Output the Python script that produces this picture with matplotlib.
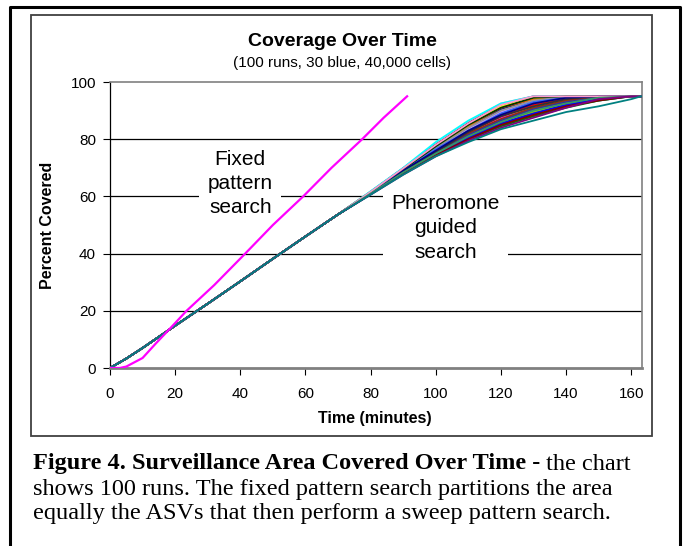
import matplotlib
matplotlib.use("Agg")
import matplotlib.pyplot as plt
from matplotlib.lines import Line2D
from matplotlib.patches import Rectangle

# pheromone runs: shared start (the bundle is tight up to ~70 min)
early_t = [0, 5, 10, 20, 30, 40, 50, 60, 70]
early_y = [0, 3.3, 7, 14.8, 22.5, 30.3, 38.2, 46, 53.7]

# each run from 80 min on (percent covered)
late_t = [80, 90, 100, 110, 120, 130, 140, 150, 160, 163]
runs = [
    [61.4, 69.2, 77, 84, 90.5, 94, 95, 95, 95, 95],
    [61, 68.4, 75, 81.5, 87, 90.5, 93.5, 95, 95, 95],
    [61.6, 69.8, 78.5, 86, 92.5, 95, 95, 95, 95, 95],
    [61.2, 69, 76, 83, 89, 92.5, 94.5, 95, 95, 95],
    [60.8, 68, 74.5, 80.5, 85.5, 89.5, 92, 94, 95, 95],
    [61.6, 69.8, 78, 85.5, 92, 95, 95, 95, 95, 95],
    [61, 68.7, 75.5, 82, 87.5, 91, 93.5, 95, 95, 95],
    [61.2, 69, 76.5, 83.5, 89.5, 93, 95, 95, 95, 95],
    [60.8, 68, 74.5, 80, 85, 88.5, 91.5, 93.5, 95, 95],
    [61.4, 69.5, 77.5, 85, 91.5, 94.5, 95, 95, 95, 95],
    [61, 68.4, 75, 81, 86, 90, 92.5, 94.5, 95, 95],
    [61.2, 68.7, 76, 82.5, 88.5, 92, 94.5, 95, 95, 95],
    [61.6, 69.8, 78, 85.5, 92, 94.5, 95, 95, 95, 95],
    [61, 68.7, 75.5, 82, 87.5, 91.5, 94, 95, 95, 95],
    [60.8, 68, 74.5, 80.5, 85, 88.5, 91.5, 94, 95, 95],
    [61.2, 69.2, 76.5, 83.5, 89.5, 93.5, 95, 95, 95, 95],
    [61, 68.4, 75, 81.5, 86.5, 90, 93, 94.5, 95, 95],
    [61.4, 69.5, 77, 84.5, 91, 94, 95, 95, 95, 95],
    [61.2, 68.7, 75.5, 82.5, 88, 91.5, 94, 95, 95, 95],
    [60.8, 68, 74.5, 80, 84.5, 88, 91, 93.5, 95, 95],
    [61.6, 69.5, 77.5, 85, 91.5, 94.5, 95, 95, 95, 95],
    [61.2, 69, 76, 83, 88.5, 92.5, 94.5, 95, 95, 95],
    [61, 68, 75, 81, 86, 89.5, 92.5, 94.5, 95, 95],
    [61.4, 69.2, 77, 84, 90, 93.5, 95, 95, 95, 95],
    [61, 68.4, 75.5, 82, 87, 91, 93.5, 95, 95, 95],
    [61.2, 68.7, 76, 82.5, 88, 92, 94, 95, 95, 95],
    [61.8, 70, 79, 86.5, 92.5, 95, 95, 95, 95, 95],
    [60.8, 68, 74.5, 80.5, 85.5, 89, 92, 94, 95, 95],
    [61.2, 69, 76.5, 83, 89, 93, 94.5, 95, 95, 95],
    [61, 68.4, 75, 81.5, 86.5, 90.5, 93, 94.5, 95, 95],
    [61.4, 69.5, 77.5, 85, 91, 94.5, 95, 95, 95, 95],
    [61, 68.7, 75.5, 82.5, 88, 91.5, 94, 95, 95, 95],
    [61.2, 69, 76, 83, 88.5, 92.5, 94.5, 95, 95, 95],
    [60.8, 68, 74.5, 80, 85, 88.5, 91.5, 93.5, 95, 95],
    [61.6, 69.8, 78, 85.5, 92, 95, 95, 95, 95, 95],
    [61, 68.4, 75, 81, 86, 90, 92.5, 94.5, 95, 95],
    [60.6, 67.6, 74, 79.5, 84, 87.5, 91, 94, 95, 95],
    [60.6, 67.6, 74, 79, 83.5, 86.5, 89.5, 91.5, 94, 95],
]

# fixed pattern search
fixed_t = [0, 3, 5, 7, 10, 14, 19, 23.5, 32, 41.5, 50, 59.3, 68, 77.4, 84, 91.2]
fixed_y = [0, 0, 0.5, 1.7, 3.5, 8.5, 14.5, 20, 29, 40, 50, 60, 70, 80, 87.5, 95]

x_ticks = [0, 20, 40, 60, 80, 100, 120, 140, 160]
y_ticks = [0, 20, 40, 60, 80, 100]

# excel style line colours
palette = ["#000080", "#FF00FF", "#00FFFF", "#800080", "#FFFF00", "#800000",
           "#008080", "#0000FF", "#00CCFF", "#99CCFF", "#FF99CC", "#CC99FF",
           "#3366FF", "#33CCCC", "#99CC00", "#339966", "#FF9900", "#333399",
           "#666699", "#969696", "#003366", "#FF6600", "#003300", "#333300",
           "#993300", "#993366", "#FFCC00", "#333333", "#000000", "#FF0000",
           "#00FF00", "#008000"]

W, H = 683, 546
fig = plt.figure(figsize=(W / 100, H / 100), dpi=100)
fig.patch.set_facecolor("white")

def fx(px):
    return px / W

def fy(py):
    return 1 - py / H

# outer frame (bottom edge is cut off)
fig.add_artist(Line2D([fx(10), fx(10), fx(680), fx(680)],
                      [0, fy(7), fy(7), 0], color="black", lw=2.2))
# chart box
fig.add_artist(Rectangle((fx(31), fy(436)), fx(652) - fx(31), fy(15) - fy(436),
                         fill=False, edgecolor="#404040", lw=1.3))

ax = fig.add_axes([fx(110), fy(368), fx(642) - fx(110), fy(82) - fy(368)])
ax.set_xlim(0, 163.3)
ax.set_ylim(0, 100)

for v in [20, 40, 60, 80]:
    ax.axhline(v, color="black", lw=0.9, zorder=1)

for i, r in enumerate(runs):
    c = palette[(i * 5) % len(palette)]
    if i == len(runs) - 2:
        c = "#800080"
    if i == len(runs) - 1:
        c = "#008080"
    ax.plot(early_t + late_t, early_y + r, color=c, lw=1.3, zorder=3)

ax.plot(fixed_t, fixed_y, color="#FF00FF", lw=1.6, zorder=4)

box = dict(facecolor="white", edgecolor="none", pad=6)
ax.text(40, 64.5, "Fixed\npattern\nsearch", ha="center", va="center",
        fontsize=15, family="Liberation Sans", linespacing=1.35,
        bbox=box, zorder=2)
ax.text(103, 49, "Pheromone\nguided\nsearch", ha="center", va="center",
        fontsize=15, family="Liberation Sans", linespacing=1.35,
        bbox=box, zorder=2)

ax.set_xticks(x_ticks)
ax.set_yticks(y_ticks)
ax.tick_params(direction="out", length=5, width=0.8, labelsize=11)
ax.tick_params(axis="x", pad=9)
ax.tick_params(axis="y", pad=5)
for lab in ax.get_xticklabels() + ax.get_yticklabels():
    lab.set_family("Liberation Sans")
ax.spines["left"].set_color("black")
ax.spines["left"].set_linewidth(0.9)
ax.spines["bottom"].set_color("#808080")
ax.spines["bottom"].set_linewidth(2)
ax.spines["top"].set_color("#808080")
ax.spines["right"].set_color("#808080")
ax.spines["top"].set_linewidth(1.2)
ax.spines["right"].set_linewidth(1.2)

fig.text(fx(342), fy(42), "Coverage Over Time", ha="center", va="center",
         fontsize=14, weight="bold", family="Liberation Sans")
fig.text(fx(342), fy(63), "(100 runs, 30 blue, 40,000 cells)", ha="center",
         va="center", fontsize=11, family="Liberation Sans")
fig.text(fx(47), fy(225), "Percent Covered", ha="center", va="center",
         rotation=90, fontsize=11.5, weight="bold", family="Liberation Sans")
fig.text(fx(375), fy(418), "Time (minutes)", ha="center", va="center",
         fontsize=11.5, weight="bold", family="Liberation Sans")

# caption below the chart box
cap = dict(fontsize=17.5, family="Liberation Serif", va="center", ha="left")
t1 = fig.text(fx(33), fy(464), "Figure 4. Surveillance Area Covered Over Time -",
              weight="bold", **cap)
fig.canvas.draw()
bb = t1.get_window_extent()
fig.text(bb.x1 / W + 0.008, fy(464), "the chart", **cap)
fig.text(fx(33), fy(489),
         "shows 100 runs. The fixed pattern search partitions the area", **cap)
fig.text(fx(33), fy(514),
         "equally the ASVs that then perform a sweep pattern search.", **cap)

fig.savefig("out.png", dpi=100)
